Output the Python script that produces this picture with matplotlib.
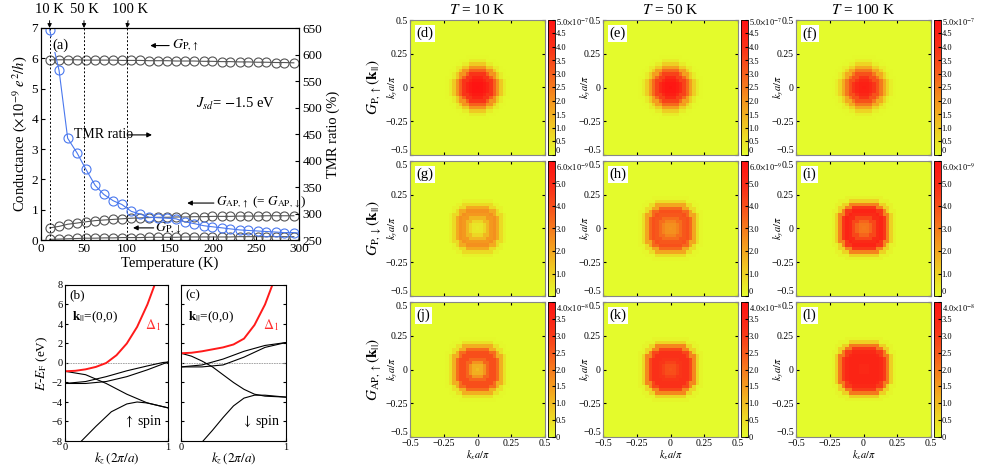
import numpy as np
import matplotlib
matplotlib.use('Agg')
import matplotlib.pyplot as plt
from matplotlib.colors import LinearSegmentedColormap

plt.rcParams['font.family'] = ['Liberation Serif', 'DejaVu Serif']
plt.rcParams['mathtext.fontset'] = 'stix'
plt.rcParams['xtick.direction'] = 'in'
plt.rcParams['ytick.direction'] = 'in'

# ---------- panel (a) data ----------
temps = [10, 21, 31, 42, 52, 63, 73, 84, 94, 105, 115, 126, 136, 147, 157, 168, 178, 189,
         199, 210, 220, 231, 241, 252, 262, 273, 283, 294]
g_p_up = [5.95, 5.95, 5.95, 5.95, 5.94, 5.94, 5.94, 5.94, 5.93, 5.93, 5.93, 5.92, 5.92, 5.92,
          5.91, 5.91, 5.91, 5.90, 5.90, 5.89, 5.89, 5.88, 5.88, 5.87, 5.87, 5.86, 5.86, 5.85]
g_ap_up = [0.40, 0.45, 0.52, 0.56, 0.60, 0.64, 0.66, 0.68, 0.70, 0.72, 0.73, 0.74, 0.75, 0.75,
           0.76, 0.76, 0.77, 0.77, 0.78, 0.78, 0.78, 0.79, 0.79, 0.79, 0.80, 0.80, 0.80, 0.80]
g_p_dn = [0.02, 0.03, 0.04, 0.05, 0.06, 0.06, 0.07, 0.07, 0.08, 0.08, 0.08, 0.09, 0.09, 0.09,
          0.09, 0.10, 0.10, 0.10, 0.10, 0.10, 0.10, 0.11, 0.11, 0.11, 0.11, 0.11, 0.11, 0.11]
tmr = [647, 570, 442, 414, 384, 353, 336, 324, 317, 304, 299, 293, 292, 291, 290, 284, 281,
       277, 275, 273, 271, 269, 268, 267, 266, 265, 264, 264]
marked_temps = [10, 50, 100]

# ---------- panels (b), (c) band data ----------
kz_red_b = [0, 0.1, 0.2, 0.3, 0.4, 0.5, 0.6, 0.7, 0.8, 0.87]
e_red_b = [-0.85, -0.8, -0.65, -0.4, 0.0, 0.8, 2.0, 3.7, 6.0, 8.0]
bands_b = [
    ([0, 0.2, 0.4, 0.6, 0.8, 1.0], [-0.85, -1.2, -2.1, -3.2, -4.1, -4.6]),
    ([0.16, 0.3, 0.45, 0.6, 0.7, 0.8, 1.0], [-8.0, -6.5, -5.0, -4.2, -4.0, -4.1, -4.6]),
    ([0, 0.2, 0.4, 0.6, 0.8, 0.95, 1.0], [-2.1, -1.9, -1.4, -0.8, -0.3, 0.05, 0.1]),
    ([0, 0.2, 0.4, 0.6, 0.8, 0.95, 1.0], [-2.1, -2.1, -1.9, -1.4, -0.7, -0.1, 0.1]),
]
kz_red_c = [0, 0.1, 0.2, 0.3, 0.4, 0.5, 0.6, 0.7, 0.8, 0.87]
e_red_c = [1.0, 1.05, 1.2, 1.4, 1.6, 1.9, 2.5, 3.9, 6.0, 8.0]
bands_c = [
    ([0, 0.1, 0.2, 0.3, 0.4, 0.5, 0.6, 0.7, 0.8, 1.0], [1.0, 0.7, 0.2, -0.4, -1.2, -2.0, -2.7, -3.2, -3.4, -3.5]),
    ([0.21, 0.3, 0.4, 0.5, 0.6, 0.7, 0.8, 1.0], [-8.0, -6.9, -5.6, -4.4, -3.6, -3.3, -3.3, -3.5]),
    ([0, 0.2, 0.4, 0.6, 0.8, 1.0], [-0.4, -0.2, 0.4, 1.2, 1.8, 2.1]),
    ([0, 0.2, 0.4, 0.6, 0.8, 1.0], [-0.4, -0.4, -0.2, 0.6, 1.6, 2.1]),
]

# ---------- panels (d)-(l): radial profiles (ring step 0.025 in k a/pi) ----------
col_titles = ['$T$ = 10 K', '$T$ = 50 K', '$T$ = 100 K']
row_labels = [r'$G_{\rm P,\uparrow}(\mathbf{k}_{||})$', r'$G_{\rm P,\downarrow}(\mathbf{k}_{||})$',
              r'$G_{\rm AP,\uparrow}(\mathbf{k}_{||})$']
panel_names = [['(d)', '(e)', '(f)'], ['(g)', '(h)', '(i)'], ['(j)', '(k)', '(l)']]
profiles = [
    [[5.0, 4.9, 4.7, 4.4, 3.9, 3.0, 2.0, 1.0, 0.3, 0.05],
     [4.9, 4.8, 4.6, 4.2, 3.6, 2.8, 1.8, 0.9, 0.3, 0.05],
     [4.6, 4.5, 4.3, 3.9, 3.3, 2.5, 1.6, 0.8, 0.25, 0.05]],
    [[0.4, 0.5, 0.9, 1.6, 2.3, 2.5, 1.9, 0.8, 0.2, 0.02],
     [2.4, 2.5, 2.8, 3.3, 3.8, 4.0, 3.4, 2.0, 0.7, 0.1],
     [3.0, 3.1, 3.5, 4.2, 5.0, 5.3, 4.6, 2.8, 1.0, 0.2]],
    [[1.0, 1.2, 1.6, 2.3, 2.7, 2.7, 2.2, 1.2, 0.4, 0.05],
     [2.6, 2.7, 2.9, 3.1, 3.2, 3.2, 2.8, 1.8, 0.6, 0.1],
     [3.4, 3.4, 3.5, 3.5, 3.5, 3.4, 3.0, 2.0, 0.7, 0.1]],
]
row_shape = [2.0, 3.0, 3.0]
cbar_max = [5.0, 6.0, 4.0]
cbar_ticks = [[0, 0.5, 1.0, 1.5, 2.0, 2.5, 3.0, 3.5, 4.0, 4.5, 5.0],
              [0, 1.0, 2.0, 3.0, 4.0, 5.0, 6.0],
              [0, 0.5, 1.0, 1.5, 2.0, 2.5, 3.0, 3.5, 4.0]]
cbar_labels = [['0', '0.5', '1.0', '1.5', '2.0', '2.5', '3.0', '3.5', '4.0', '4.5', r'5.0$\times$10$^{-7}$'],
               ['0', '1.0', '2.0', '3.0', '4.0', '5.0', r'6.0$\times$10$^{-9}$'],
               ['0', '0.5', '1.0', '1.5', '2.0', '2.5', '3.0', '3.5', r'4.0$\times$10$^{-8}$']]
k_ticks = [-0.5, -0.25, 0, 0.25, 0.5]
k_ticklabels = ['\u22120.5', '\u22120.25', '0', '0.25', '0.5']

W, H = 981, 465
fig = plt.figure(figsize=(W / 100, H / 100), dpi=100)


def ax_px(l, t, r, b):
    return fig.add_axes([l / W, 1 - b / H, (r - l) / W, (b - t) / H])


# ---------------- panel (a) ----------------
ax = ax_px(41, 28, 299, 240)
grey = '#555555'
blue = '#4a78ee'
for g in (g_p_up, g_ap_up, g_p_dn):
    ax.plot(temps, g, '-o', color=grey, lw=0.8, ms=6.5, mfc='none', mec=grey, mew=0.8)
ax.set_xlim(0, 300)
ax.set_ylim(0, 7)
ax.set_xticks(range(0, 301, 50))
ax.set_yticks(range(0, 8))
ax.tick_params(labelsize=9.5, length=3, top=False, pad=2)
ax.set_xlabel('Temperature (K)', fontsize=10.5, labelpad=1)
ax.set_ylabel(r'Conductance ($\times$10$^{-9}$ $e^2/h$)', fontsize=10.5, labelpad=2)
for t in marked_temps:
    ax.axvline(t, color='k', lw=0.7, ls=(0, (2, 2)))
    ax.annotate('%d K' % t, xy=(t, 1.0), xycoords=('data', 'axes fraction'),
                xytext=(t + (3 if t == 100 else 0), 1.085), textcoords=('data', 'axes fraction'),
                ha='center', va='center', fontsize=10.5,
                arrowprops=dict(arrowstyle='-|>', color='k', lw=0.7, mutation_scale=6,
                                shrinkA=1, shrinkB=0))

ax2 = ax.twinx()
ax2.plot(temps + [300], tmr + [263], '-', color=blue, lw=0.8)
ax2.plot(temps, tmr, 'o', color=blue, ms=6.5, mfc='none', mec=blue, mew=0.8)
ax2.set_ylim(250, 650)
ax2.set_yticks(range(250, 651, 50))
ax2.tick_params(labelsize=9.5, length=3, pad=2.5)
ax2.set_ylabel('TMR ratio (%)', fontsize=10.5, labelpad=3)

ax2.text(13, 618, '(a)', fontsize=10.5, ha='left', va='center',
         bbox=dict(fc='white', ec='none', pad=0.5))


def arrow_left(a, x0, x1, y):
    a.annotate('', xy=(x0, y), xytext=(x1, y),
               arrowprops=dict(arrowstyle='-|>', color='k', lw=0.8, mutation_scale=7,
                               shrinkA=0, shrinkB=0))


arrow_left(ax, 127, 149, 6.42)
ax.text(152, 6.42, r'$G_{\rm P,\uparrow}$', fontsize=10, va='center')
ax.text(180, 4.5, r'$J_{sd}$= $-$1.5 eV', fontsize=10.5, va='center')
ax.text(38, 3.47, 'TMR ratio', fontsize=10, va='center')
ax.annotate('', xy=(129, 3.47), xytext=(101, 3.47),
            arrowprops=dict(arrowstyle='-|>', color='k', lw=0.8, mutation_scale=7,
                            shrinkA=0, shrinkB=0))
arrow_left(ax, 170, 201, 1.22)
ax.text(203, 1.22, r'$G_{\rm AP,\uparrow}$ (= $G_{\rm AP,\downarrow}$)', fontsize=9.5, va='center')
arrow_left(ax, 107, 131, 0.40)
ax.text(133, 0.40, r'$G_{\rm P,\downarrow}$', fontsize=10, va='center')

# ---------------- panels (b), (c) ----------------
band_axes = [ax_px(65, 285, 168, 441), ax_px(181, 285, 286, 441)]
band_sets = [(kz_red_b, e_red_b, bands_b, '(b)', r'$\uparrow$ spin'),
             (kz_red_c, e_red_c, bands_c, '(c)', r'$\downarrow$ spin')]
for i, (bax, (kr, er, bands, lab, spin)) in enumerate(zip(band_axes, band_sets)):
    bax.axhline(0, color='#999999', lw=0.6, ls=(0, (2, 1)))
    for kk, ee in bands:
        bax.plot(kk, ee, color='k', lw=0.8)
    bax.plot(kr, er, color='#ff1a1a', lw=1.4)
    bax.set_xlim(0, 1)
    bax.set_ylim(-8, 8)
    bax.set_xticks([0, 1])
    bax.set_yticks(range(-8, 9, 2))
    bax.tick_params(labelsize=7.5, length=2.5, right=True, pad=1.5)
    if i == 1:
        bax.set_yticklabels([])
    else:
        bax.set_ylabel(r'$E$-$E_{\rm F}$ (eV)', fontsize=9.5, labelpad=1)
        bax.set_yticklabels(['\u22128', '\u22126', '\u22124', '\u22122', '0', '2', '4', '6', '8'])
    bax.set_xlabel(r'$k_z\,(2\pi/a)$', fontsize=9.5, labelpad=-1)
    bax.text(0.04, 0.97, lab, transform=bax.transAxes, fontsize=9.5, va='top')
    bax.text(0.07, 0.79, r'$\mathbf{k}_{||}$=(0,0)', transform=bax.transAxes, fontsize=9.5, va='center')
    bax.text(0.78, 0.74, r'$\Delta_1$', transform=bax.transAxes, fontsize=10, color='#ff3030',
             va='center')
    bax.text(0.95, 0.07, spin, transform=bax.transAxes, fontsize=10, ha='right', va='bottom')

# ---------------- panels (d)-(l) ----------------
cmap = LinearSegmentedColormap.from_list(
    'yr', [(0, '#e4fb2c'), (0.15, '#eed624'), (0.35, '#f4a21f'), (0.6, '#f7601c'),
           (0.8, '#fa3018'), (1.0, '#ff1212')])
k_cells = np.arange(-20, 21) * 0.025
kx, ky = np.meshgrid(k_cells, k_cells)
col_left = [410, 603, 796]
row_top = [20, 161, 302]
size = 135

for r in range(3):
    p = row_shape[r]
    rad = (np.abs(kx) ** p + np.abs(ky) ** p) ** (1 / p)
    ring = np.rint(rad / 0.025).astype(int)
    for c in range(3):
        prof = np.array(profiles[r][c] + [0.0])
        grid = prof[np.clip(ring, 0, len(prof) - 1)]
        l, t = col_left[c], row_top[r]
        hax = ax_px(l, t, l + size, t + size)
        im = hax.imshow(grid, cmap=cmap, vmin=0, vmax=cbar_max[r], origin='lower',
                        extent=[-0.5125, 0.5125, -0.5125, 0.5125], interpolation='nearest')
        hax.set_xlim(-0.5, 0.5)
        hax.set_ylim(-0.5, 0.5)
        hax.set_xticks(k_ticks)
        hax.set_yticks(k_ticks)
        hax.set_yticklabels(k_ticklabels)
        hax.tick_params(labelsize=7, length=2.5, top=True, right=True, pad=1.5)
        ylabs = hax.get_yticklabels()
        ylabs[0].set_va('bottom')
        if r > 0:
            ylabs[-1].set_va('top')
        for s in hax.spines.values():
            s.set_color('#888888')
        if r == 2:
            hax.set_xticklabels(k_ticklabels)
            hax.set_xlabel(r'$k_x a/\pi$', fontsize=7.5, labelpad=0)
        else:
            hax.set_xticklabels([])
        hax.set_ylabel(r'$k_y a/\pi$', fontsize=7.5)
        hax.yaxis.set_label_coords(-0.075, 0.5)
        hax.text(0.05, 0.95, panel_names[r][c], transform=hax.transAxes, fontsize=10.5,
                 va='top', ha='left', bbox=dict(fc='white', ec='none', pad=1))
        cax = ax_px(l + size + 3, t, l + size + 10, t + size)
        cb = fig.colorbar(im, cax=cax)
        cb.set_ticks(cbar_ticks[r])
        cb.set_ticklabels(cbar_labels[r])
        cb.ax.tick_params(labelsize=6, length=2, pad=0.5, direction='in')
        cb.outline.set_linewidth(0.6)
        clabs = cb.ax.get_yticklabels()
        if r < 2:
            clabs[0].set_va('bottom')
        if r > 0:
            clabs[-1].set_va('top')
        if r == 0:
            fig.text((l + size / 2) / W, 1 - 10 / H, col_titles[c], fontsize=11,
                     ha='center', va='center')
    fig.text(374 / W, 1 - (row_top[r] + size / 2) / H, row_labels[r], fontsize=11,
             rotation=90, ha='center', va='center')

fig.savefig('out.png', dpi=100)
